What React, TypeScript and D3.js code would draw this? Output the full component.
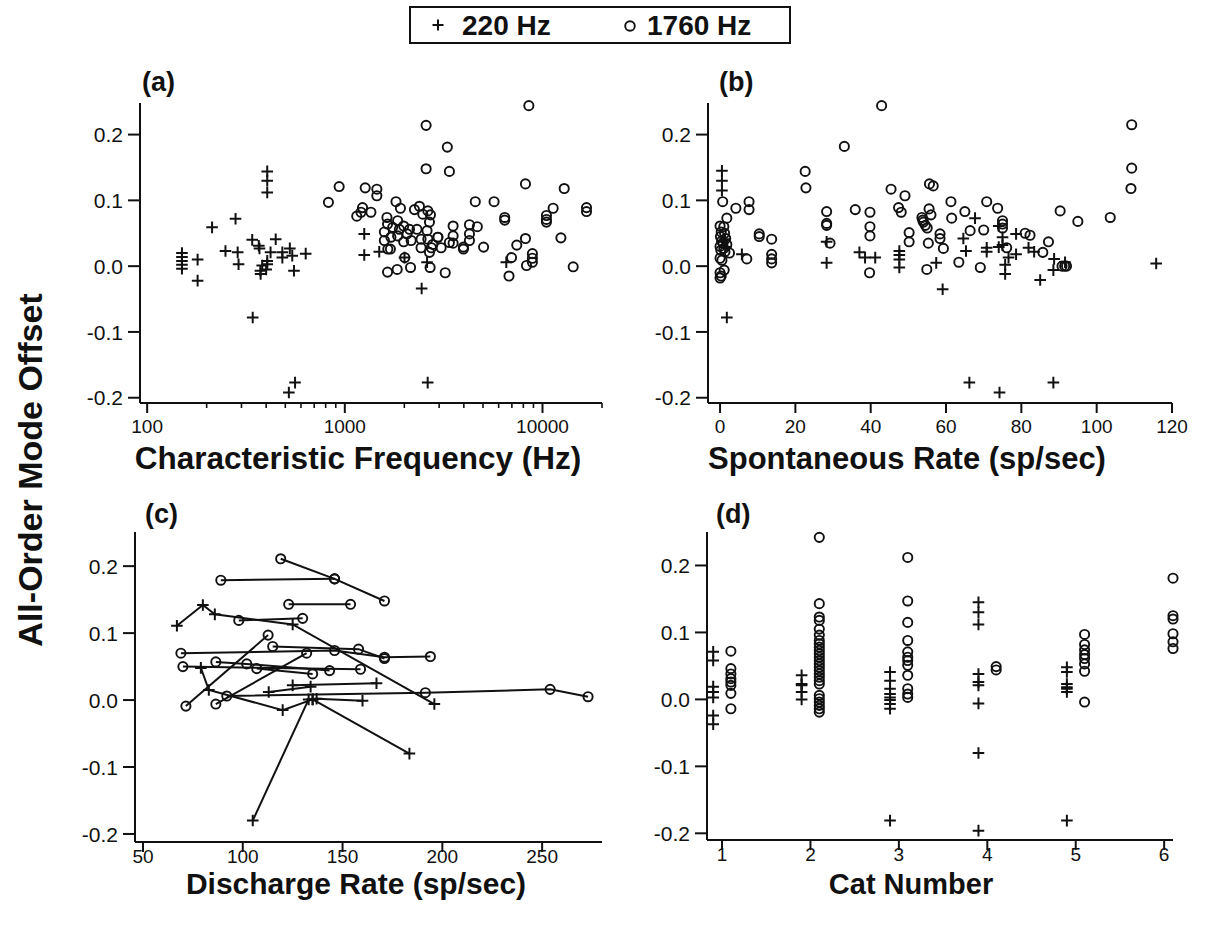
import React from 'react';
import * as d3 from 'd3';

type Pt = [number, number];

const W = 1207;
const H = 925;
const FONT = '"Liberation Sans", Arial, Helvetica, sans-serif';
const INK = '#111';

// ---------- legend ----------
const legendLabels = ['220 Hz', '1760 Hz'];

// ---------- panel (a): characteristic frequency (Hz) vs offset ----------
const aCross220: Pt[] = [
  [150, 0.02], [150, 0.014], [150, 0.008], [150, 0.002], [150, -0.004],
  [180, 0.01], [180, -0.022], [213, 0.059], [249, 0.023], [280, 0.072], [287, 0.021], [290, 0.003],
  [340, 0.04], [342, -0.078], [367, 0.031], [370, 0.027],
  [405, 0.144], [405, 0.13], [405, 0.112],
  [421, 0.021], [405, 0.008], [405, 0.003], [400, -0.005], [382, 0.001], [374, -0.007], [375, -0.012],
  [447, 0.041], [483, 0.021], [483, 0.013], [527, 0.027], [542, 0.016], [553, -0.007],
  [521, -0.192], [560, -0.177], [634, 0.019],
  [1254, 0.049], [1254, 0.017], [1493, 0.022], [2004, 0.013], [2606, 0.006], [2447, -0.034],
  [2625, -0.177], [6560, 0.006],
];
const aCircle1760: Pt[] = [
  [826, 0.097], [936, 0.121], [1268, 0.119], [1452, 0.117], [1452, 0.107], [1207, 0.082], [1149, 0.076], [1229, 0.089],
  [1355, 0.082], [1815, 0.098], [1911, 0.088], [2250, 0.086], [2384, 0.091], [2630, 0.084], [2577, 0.148],
  [3381, 0.144], [2577, 0.214], [3300, 0.181], [8530, 0.244], [8200, 0.125], [12880, 0.118], [5690, 0.098],
  [4570, 0.098], [6440, 0.074], [6440, 0.07], [11320, 0.088], [10470, 0.077], [10470, 0.071], [10470, 0.067],
  [16700, 0.089], [16700, 0.083], [12390, 0.043], [8200, 0.042], [7410, 0.032], [6970, 0.013], [6770, -0.015],
  [8300, 0.001], [8890, 0.019], [8890, 0.012], [8890, 0.006], [14300, -0.001],
  [5035, 0.029], [4680, 0.06], [4270, 0.063], [4270, 0.049], [4270, 0.039], [3980, 0.029], [3980, 0.026],
  [3530, 0.061], [3530, 0.046], [3530, 0.035], [3220, -0.01], [3070, 0.028], [2960, 0.044],
  [1633, 0.074], [1850, 0.069], [1985, 0.061], [2479, 0.079], [2711, 0.078], [2680, 0.067], [1645, 0.064],
  [2125, 0.056], [1585, 0.052], [1746, 0.059], [1888, 0.056], [2065, 0.049], [2318, 0.056], [2606, 0.054],
  [2950, 0.044], [1585, 0.039], [1710, 0.044], [1850, 0.046], [1985, 0.037], [2165, 0.039], [2430, 0.041],
  [2630, 0.041], [2785, 0.033], [3380, 0.036], [2430, 0.028], [1650, 0.026], [1700, 0.026], [2740, 0.028],
  [2010, 0.013], [2680, 0.021], [2150, -0.002], [2700, -0.002], [1840, -0.005], [1645, -0.009],
];
const aXTicks = [100, 1000, 10000];

// ---------- panel (b): spontaneous rate vs offset ----------
const bCross220: Pt[] = [
  [0.5, 0.145], [0.5, 0.13], [0.5, 0.115], [1.8, -0.078], [1.3, 0.041], [1.5, 0.029], [5.8, 0.018],
  [28.3, 0.037], [28.3, 0.005], [37, 0.021], [38.5, 0.013], [41.2, 0.013],
  [47.6, 0.023], [47.6, 0.017], [47.6, 0.01], [47.6, -0.002],
  [57.4, 0.005], [59.1, -0.035], [64.6, 0.042], [65.3, 0.023], [67.7, 0.073], [70.8, 0.028], [70.8, 0.022],
  [74, 0.061], [75, 0.044], [75, 0.032], [74, 0.029], [75.7, 0.002], [75.7, -0.012], [76.6, 0.013],
  [78.6, 0.049], [78.6, 0.018], [81.9, 0.028], [83.4, 0.022], [85, -0.021], [88.7, 0.011], [88.5, -0.006],
  [91.6, 0.006], [115.8, 0.004], [66.2, -0.177], [74.2, -0.192], [88.5, -0.177],
];
const bCircle1760: Pt[] = [
  [0.0, 0.061], [1.0, 0.06], [0.3, 0.052], [1.2, 0.05], [0.1, 0.045], [1.5, 0.042], [0.4, 0.038], [0.8, 0.035],
  [1.8, 0.033], [0.0, 0.03], [1.0, 0.027], [0.2, 0.024], [1.3, 0.022], [0.0, 0.012], [0.5, 0.009], [0.0, -0.01],
  [0.3, -0.015], [1.1, -0.006], [0.0, -0.018],
  [0.7, 0.098], [4.2, 0.088], [7.7, 0.098], [7.7, 0.086], [1.8, 0.073], [2.5, 0.02], [7.1, 0.011],
  [10.4, 0.049], [10.4, 0.045], [13.7, 0.041], [13.7, 0.018], [13.7, 0.011], [13.7, 0.005],
  [22.6, 0.144], [22.8, 0.119], [33, 0.182], [35.9, 0.086], [28.3, 0.083], [28.3, 0.065], [28.3, 0.062], [29.2, 0.035],
  [42.9, 0.244], [39.8, 0.082], [39.8, 0.06], [39.8, 0.046], [39.7, -0.01],
  [45.4, 0.117], [49.1, 0.107], [47.4, 0.089], [48.1, 0.082], [50.2, 0.051], [50.2, 0.037],
  [53.6, 0.074], [54, 0.067], [54.5, 0.062], [55, 0.058], [55.5, 0.087], [56, 0.078], [53.8, 0.07],
  [55.6, 0.125], [56.6, 0.122], [55.3, 0.035], [54.9, -0.005],
  [58.4, 0.049], [58.4, 0.042], [59.3, 0.027], [61.3, 0.098], [61.5, 0.073], [65, 0.083], [66.4, 0.054],
  [63.4, 0.006], [69.1, -0.002], [70, 0.055], [70.8, 0.098], [73.7, 0.088], [75, 0.069], [75, 0.064], [75, 0.058],
  [76.1, 0.028], [81, 0.05], [82.3, 0.047],
  [109.3, 0.215], [109.3, 0.149], [109.1, 0.118], [103.6, 0.074], [95, 0.068], [90.3, 0.084], [87.2, 0.037],
  [85.7, 0.021], [90.8, 0.0], [91.5, 0.0], [92, 0.0],
];
const bXTicks = [0, 20, 40, 60, 80, 100, 120];

// ---------- panel (c): discharge rate vs offset, connected per unit ----------
const cCross220Lines: Pt[][] = [
  [[67, 0.111], [80, 0.142], [86, 0.128], [125, 0.113], [196, -0.006]],
  [[79, 0.048], [83, 0.015], [120, -0.015], [135, 0.001]],
  [[105, -0.18], [133, 0.001]],
  [[125, 0.022], [167, 0.025]],
  [[113, 0.012], [134, 0.02]],
  [[137, 0.002], [160, -0.001]],
  [[135, 0.001], [183.5, -0.08]],
];
const cCircle1760Lines: Pt[][] = [
  [[119, 0.211], [146, 0.181], [171, 0.148]],
  [[89, 0.179], [146, 0.181]],
  [[123, 0.143], [154, 0.143]],
  [[98, 0.119], [130, 0.122]],
  [[71.5, -0.009], [112.7, 0.097]],
  [[69, 0.07], [146, 0.074], [171, 0.064], [194, 0.065]],
  [[70, 0.05], [159, 0.046]],
  [[86.5, 0.057], [102, 0.054], [143.5, 0.044]],
  [[115, 0.08], [158, 0.076], [171, 0.062]],
  [[86.5, -0.006], [132, 0.07]],
  [[107, 0.047], [135, 0.039]],
  [[92, 0.006], [191.5, 0.011], [254, 0.016], [273, 0.005]],
];
const cXTicks = [50, 100, 150, 200, 250];

// ---------- panel (d): cat number vs offset ----------
const dCross220: Pt[] = [
  [1, 0.071], [1, 0.058], [1, 0.019], [1, 0.011], [1, 0.003], [1, -0.024], [1, -0.037],
  [2, 0.036], [2, 0.023], [2, 0.021], [2, 0.011], [2, 0.0],
  [3, 0.041], [3, 0.028], [3, 0.016], [3, 0.008], [3, 0.003], [3, -0.001], [3, -0.007], [3, -0.014], [3, -0.181],
  [4, 0.145], [4, 0.13], [4, 0.112], [4, 0.038], [4, 0.026], [4, 0.021], [4, -0.006], [4, -0.08], [4, -0.196],
  [5, 0.048], [5, 0.041], [5, 0.023], [5, 0.018], [5, 0.016], [5, 0.011], [5, -0.181],
];
const dCircle1760: Pt[] = [
  [1, 0.072], [1, 0.046], [1, 0.038], [1, 0.031], [1, 0.026], [1, 0.021], [1, 0.009], [1, -0.014],
  [2, 0.242], [2, 0.143], [2, 0.123], [2, 0.118], [2, 0.105], [2, 0.096], [2, 0.088], [2, 0.083], [2, 0.078],
  [2, 0.073], [2, 0.068], [2, 0.063], [2, 0.058], [2, 0.053], [2, 0.048], [2, 0.043], [2, 0.038], [2, 0.033],
  [2, 0.028], [2, 0.023], [2, 0.006], [2, 0.001], [2, -0.004], [2, -0.009], [2, -0.014], [2, -0.019],
  [3, 0.212], [3, 0.147], [3, 0.115], [3, 0.088], [3, 0.071], [3, 0.063], [3, 0.058], [3, 0.051], [3, 0.036],
  [3, 0.016], [3, 0.008], [3, 0.003],
  [4, 0.049], [4, 0.044],
  [5, 0.097], [5, 0.082], [5, 0.074], [5, 0.067], [5, 0.061], [5, 0.053], [5, 0.042], [5, -0.004],
  [6, 0.181], [6, 0.125], [6, 0.12], [6, 0.098], [6, 0.086], [6, 0.076],
];
const dXTicks = [1, 2, 3, 4, 5, 6];

const yTicks = [-0.2, -0.1, 0.0, 0.1, 0.2];

const titles = {
  a: 'Characteristic Frequency (Hz)',
  b: 'Spontaneous Rate (sp/sec)',
  c: 'Discharge Rate (sp/sec)',
  d: 'Cat Number',
  y: 'All-Order Mode Offset',
};

// ---------- drawing helpers ----------
const Cross = ({ x, y, s = 5.8 }: { x: number; y: number; s?: number }) => (
  <path d={`M${x - s},${y}H${x + s}M${x},${y - s}V${y + s}`} stroke={INK} strokeWidth={2} fill="none" />
);
const Ring = ({ x, y, r = 4.6 }: { x: number; y: number; r?: number }) => (
  <circle cx={x} cy={y} r={r} fill="none" stroke={INK} strokeWidth={1.9} />
);

const fmtY = (v: number) => (Math.abs(v) < 1e-9 ? '0.0' : v.toFixed(1));

function YAxis({ y, x }: { y: d3.ScaleLinear<number, number>; x: number }) {
  const [b, t] = y.range();
  return (
    <g>
      <line x1={x} x2={x} y1={t} y2={b} stroke={INK} strokeWidth={2} />
      {yTicks.map((v) => (
        <g key={v}>
          <line x1={x - 12} x2={x} y1={y(v)} y2={y(v)} stroke={INK} strokeWidth={2} />
          <text x={x - 17} y={y(v)} dy="0.36em" textAnchor="end" fontSize={21} fontFamily={FONT} fill={INK}>
            {fmtY(v)}
          </text>
        </g>
      ))}
    </g>
  );
}

function XAxis({
  scale, y, ticks, minor = [], labelDy, fmt = (v: number) => String(v),
}: {
  scale: (v: number) => number; y: number; ticks: number[]; minor?: number[]; labelDy: number;
  fmt?: (v: number) => string;
}) {
  const r = (scale as any).range() as number[];
  return (
    <g>
      <line x1={r[0]} x2={r[1]} y1={y} y2={y} stroke={INK} strokeWidth={2} />
      {minor.map((v) => (
        <line key={'m' + v} x1={scale(v)} x2={scale(v)} y1={y} y2={y + 5} stroke={INK} strokeWidth={1.6} />
      ))}
      {ticks.map((v) => (
        <g key={v}>
          <line x1={scale(v)} x2={scale(v)} y1={y} y2={y + 10} stroke={INK} strokeWidth={2} />
          <text x={scale(v)} y={y + labelDy} textAnchor="middle" fontSize={19} fontFamily={FONT} fill={INK}>
            {fmt(v)}
          </text>
        </g>
      ))}
    </g>
  );
}

const PanelLabel = ({ x, y, t }: { x: number; y: number; t: string }) => (
  <text x={x} y={y} fontSize={27} fontWeight="bold" fontFamily={FONT} fill={INK}>{t}</text>
);
const AxisTitle = ({ x, y, t, size }: { x: number; y: number; t: string; size: number }) => (
  <text x={x} y={y} textAnchor="middle" fontSize={size} fontWeight="bold" fontFamily={FONT} fill={INK}>{t}</text>
);

export default function App() {
  // panel (a)
  const ax = d3.scaleLog().domain([92, 20000]).range([140, 602]);
  const ay = d3.scaleLinear().domain([-0.208, 0.248]).range([403, 103]);
  const aMinor: number[] = [];
  [100, 1000, 10000].forEach((dec) => {
    for (let k = 2; k <= 9; k++) if (dec * k <= 20000) aMinor.push(dec * k);
  });
  // panel (b)
  const bx = d3.scaleLinear().domain([-3.2, 120]).range([708, 1172]);
  const by = ay.copy();
  // panel (c)
  const cx = d3.scaleLinear().domain([46, 280]).range([135, 602]);
  const cy = d3.scaleLinear().domain([-0.212, 0.251]).range([842, 532]);
  // panel (d)
  const dx = d3.scaleLinear().domain([0.83, 6.1]).range([707, 1173]);
  const dy = d3.scaleLinear().domain([-0.21, 0.25]).range([840, 532]);
  const dodge = 0.1;

  const line = (sx: (v: number) => number, sy: (v: number) => number) =>
    d3.line<Pt>().x((d) => sx(d[0])).y((d) => sy(d[1]));
  const cLine = line(cx, cy);

  return (
    <svg width={W} height={H} style={{ position: 'absolute', left: 0, top: 0, background: '#fff' }}>
      <rect width={W} height={H} fill="#fff" />

      {/* legend */}
      <rect x={410} y={7} width={380} height={36} fill="#fff" stroke={INK} strokeWidth={2} />
      <Cross x={438} y={25} s={5.5} />
      <text x={462} y={35} fontSize={28} fontWeight="bold" fontFamily={FONT} fill={INK}>{legendLabels[0]}</text>
      <Ring x={630} y={26} r={4.8} />
      <text x={647} y={35} fontSize={28} fontWeight="bold" fontFamily={FONT} fill={INK}>{legendLabels[1]}</text>

      {/* y title */}
      <text
        transform="translate(42,470) rotate(-90)"
        textAnchor="middle" fontSize={34} fontWeight="bold" fontFamily={FONT} fill={INK}
      >
        {titles.y}
      </text>

      {/* (a) */}
      <PanelLabel x={142} y={91} t="(a)" />
      <YAxis y={ay} x={140} />
      <XAxis scale={ax} y={403} ticks={aXTicks} minor={aMinor} labelDy={30} />
      <AxisTitle x={358} y={469} t={titles.a} size={31.5} />
      {aCross220.map((d, i) => <Cross key={'ac' + i} x={ax(d[0])} y={ay(d[1])} />)}
      {aCircle1760.map((d, i) => <Ring key={'ao' + i} x={ax(d[0])} y={ay(d[1])} />)}

      {/* (b) */}
      <PanelLabel x={719} y={91} t="(b)" />
      <YAxis y={by} x={708} />
      <XAxis scale={bx} y={403} ticks={bXTicks} labelDy={30} />
      <AxisTitle x={907} y={469} t={titles.b} size={31} />
      {bCross220.map((d, i) => <Cross key={'bc' + i} x={bx(d[0])} y={by(d[1])} />)}
      {bCircle1760.map((d, i) => <Ring key={'bo' + i} x={bx(d[0])} y={by(d[1])} />)}

      {/* (c) */}
      <PanelLabel x={145} y={523} t="(c)" />
      <YAxis y={cy} x={135} />
      <XAxis scale={cx} y={842} ticks={cXTicks} labelDy={21} />
      <AxisTitle x={356} y={894} t={titles.c} size={30} />
      {cCross220Lines.map((s, i) => (
        <g key={'cl' + i}>
          <path d={cLine(s) || ''} fill="none" stroke={INK} strokeWidth={2} />
          {s.map((d, j) => <Cross key={j} x={cx(d[0])} y={cy(d[1])} />)}
        </g>
      ))}
      {cCircle1760Lines.map((s, i) => (
        <g key={'co' + i}>
          <path d={cLine(s) || ''} fill="none" stroke={INK} strokeWidth={2} />
          {s.map((d, j) => <Ring key={j} x={cx(d[0])} y={cy(d[1])} />)}
        </g>
      ))}

      {/* (d) */}
      <PanelLabel x={716} y={523} t="(d)" />
      <YAxis y={dy} x={707} />
      <XAxis scale={dx} y={840} ticks={dXTicks} labelDy={21} />
      <AxisTitle x={911} y={894} t={titles.d} size={29} />
      {dCross220.map((d, i) => <Cross key={'dc' + i} x={dx(d[0] - dodge)} y={dy(d[1])} />)}
      {dCircle1760.map((d, i) => <Ring key={'do' + i} x={dx(d[0] + dodge)} y={dy(d[1])} />)}
    </svg>
  );
}
